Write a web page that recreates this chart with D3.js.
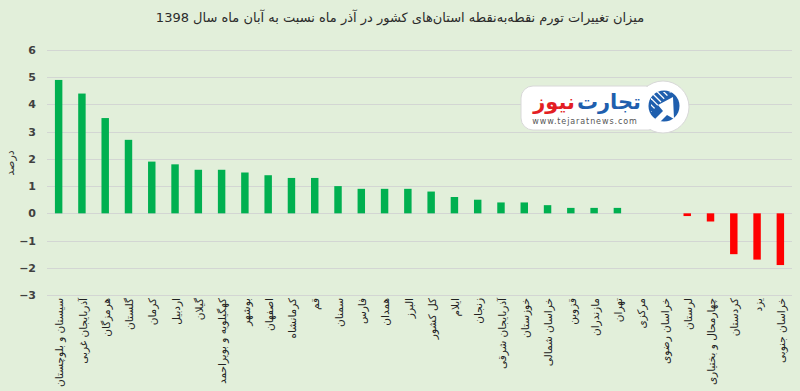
<!DOCTYPE html>
<html>
<head>
<meta charset="utf-8">
<script src="https://cdn.jsdelivr.net/npm/d3@7"></script>
<style>
  html, body { margin: 0; padding: 0; background: #e2efda; }
  svg { display: block; font-family: "DejaVu Sans", sans-serif; }
</style>
</head>
<body>
<svg id="chart" width="800" height="391"></svg>
<script>
// provinces, month-on-month inflation change (Azar vs Aban 1398), percent
const provinces = [
  "سیستان و بلوچستان", "آذربایجان غربی", "هرمزگان", "گلستان", "کرمان", "اردبیل",
  "گیلان", "کهگیلویه و بویراحمد", "بوشهر", "اصفهان", "کرمانشاه", "قم", "سمنان",
  "فارس", "همدان", "البرز", "کل کشور", "ایلام", "زنجان", "آذربایجان شرقی",
  "خوزستان", "خراسان شمالی", "قزوین", "مازندران", "تهران", "مرکزی",
  "خراسان رضوی", "لرستان", "چهارمحال و بختیاری", "کردستان", "یزد", "خراسان جنوبی"
];
const values = [
  4.9, 4.4, 3.5, 2.7, 1.9, 1.8,
  1.6, 1.6, 1.5, 1.4, 1.3, 1.3, 1.0,
  0.9, 0.9, 0.9, 0.8, 0.6, 0.5, 0.4,
  0.4, 0.3, 0.2, 0.2, 0.2, 0,
  0, -0.1, -0.3, -1.5, -1.7, -1.9
];
const yTicks = [-3, -2, -1, 0, 1, 2, 3, 4, 5, 6];

const title = "میزان تغییرات تورم نقطه‌به‌نقطه استان‌های کشور در آذر ماه نسبت به آبان ماه سال 1398";
const yLabel = "درصد";

const svg = d3.select("#chart");
const plot = { left: 47, right: 792, top: 50, bottom: 295 };

const x = d3.scaleBand().domain(provinces).range([plot.left, plot.right]).paddingInner(0.68).paddingOuter(0.34);
const y = d3.scaleLinear().domain([-3, 6]).range([plot.bottom, plot.top]);

svg.append("rect").attr("width", 800).attr("height", 391).attr("fill", "#e2efda");

// title
svg.append("text")
  .attr("x", 400).attr("y", 22)
  .attr("text-anchor", "middle")
  .attr("font-size", 13)
  .attr("fill", "#2b2b2b")
  .text(title);

// gridlines
svg.append("g")
  .selectAll("line")
  .data(yTicks)
  .join("line")
  .attr("x1", plot.left).attr("x2", plot.right)
  .attr("y1", d => Math.round(y(d)) + 0.5).attr("y2", d => Math.round(y(d)) + 0.5)
  .attr("stroke", "#d3d6d3").attr("stroke-width", 1.2);

// y axis labels
const yAxis = svg.append("g")
  .attr("transform", `translate(${plot.left - 11},0)`)
  .call(d3.axisLeft(y).tickValues(yTicks).tickSize(0).tickPadding(0).tickFormat(d3.format("d")));
yAxis.select(".domain").remove();
yAxis.selectAll("text")
  .attr("font-family", "DejaVu Sans, sans-serif")
  .attr("font-size", 11)
  .attr("font-weight", "bold")
  .attr("fill", "#404040");

svg.append("text")
  .attr("transform", "translate(14,163) rotate(-90)")
  .attr("text-anchor", "middle")
  .attr("font-size", 11)
  .attr("fill", "#333")
  .text(yLabel);

// bars
svg.append("g")
  .selectAll("rect")
  .data(provinces.map((p, i) => ({ p, v: values[i] })))
  .join("rect")
  .attr("x", d => x(d.p))
  .attr("width", x.bandwidth())
  .attr("y", d => y(Math.max(0, d.v)))
  .attr("height", d => Math.abs(y(d.v) - y(0)))
  .attr("fill", d => d.v < 0 ? "#ff0000" : "#00b050");

// category labels, rotated
svg.append("g")
  .selectAll("text")
  .data(provinces)
  .join("text")
  .attr("transform", d => `translate(${x(d) + x.bandwidth() / 2 + 1},${plot.bottom + 3}) rotate(-90)`)
  .attr("text-anchor", "end")
  .attr("dy", "0.35em")
  .attr("font-size", 10.5)
  .attr("fill", "#222")
  .text(d => d);

// tejaratnews logo
const logo = svg.append("g");
logo.append("rect")
  .attr("x", 521).attr("y", 86).attr("width", 140).attr("height", 44).attr("rx", 12)
  .attr("fill", "#fff").attr("stroke", "#d8d8d8");
logo.append("circle")
  .attr("cx", 663).attr("cy", 107).attr("r", 26)
  .attr("fill", "#fff").attr("stroke", "#d8d8d8");
logo.append("rect")
  .attr("x", 630).attr("y", 87).attr("width", 30).attr("height", 42).attr("fill", "#fff");
logo.append("circle")
  .attr("cx", 664).attr("cy", 106).attr("r", 15.5).attr("fill", "#1f5fae");
svg.append("clipPath").attr("id", "logoClip")
  .append("path").attr("d", "M651,92 L671,92 L651,112 Z");
logo.append("g")
  .attr("clip-path", "url(#logoClip)")
  .selectAll("line")
  .data(d3.range(-16, 17, 3.2))
  .join("line")
  .attr("x1", d => 658 + d - 10).attr("y1", d => 99 - d - 10)
  .attr("x2", d => 658 + d + 10).attr("y2", d => 99 - d + 10)
  .attr("stroke", "#fff").attr("stroke-width", 1.3);
logo.append("path")
  .attr("d", "M673,97 L674,119 L667,115 L659,123 L655,119 L663,111 L658,105 Z")
  .attr("fill", "#fff");
const brand1 = logo.append("text")
  .attr("x", 641).attr("y", 109)
  .attr("text-anchor", "end")
  .attr("font-size", 21).attr("font-weight", "bold")
  .attr("fill", "#1f5fae")
  .text("تجارت");
const w1 = brand1.node().getComputedTextLength();
logo.append("text")
  .attr("x", 641 - w1 - 2).attr("y", 109)
  .attr("text-anchor", "end")
  .attr("font-size", 21).attr("font-weight", "bold")
  .attr("fill", "#e31e24")
  .text("نیوز");
logo.append("text")
  .attr("x", 585).attr("y", 124)
  .attr("text-anchor", "middle")
  .attr("font-size", 8)
  .attr("letter-spacing", 0.9)
  .attr("fill", "#555")
  .text("www.tejaratnews.com");
</script>
</body>
</html>
